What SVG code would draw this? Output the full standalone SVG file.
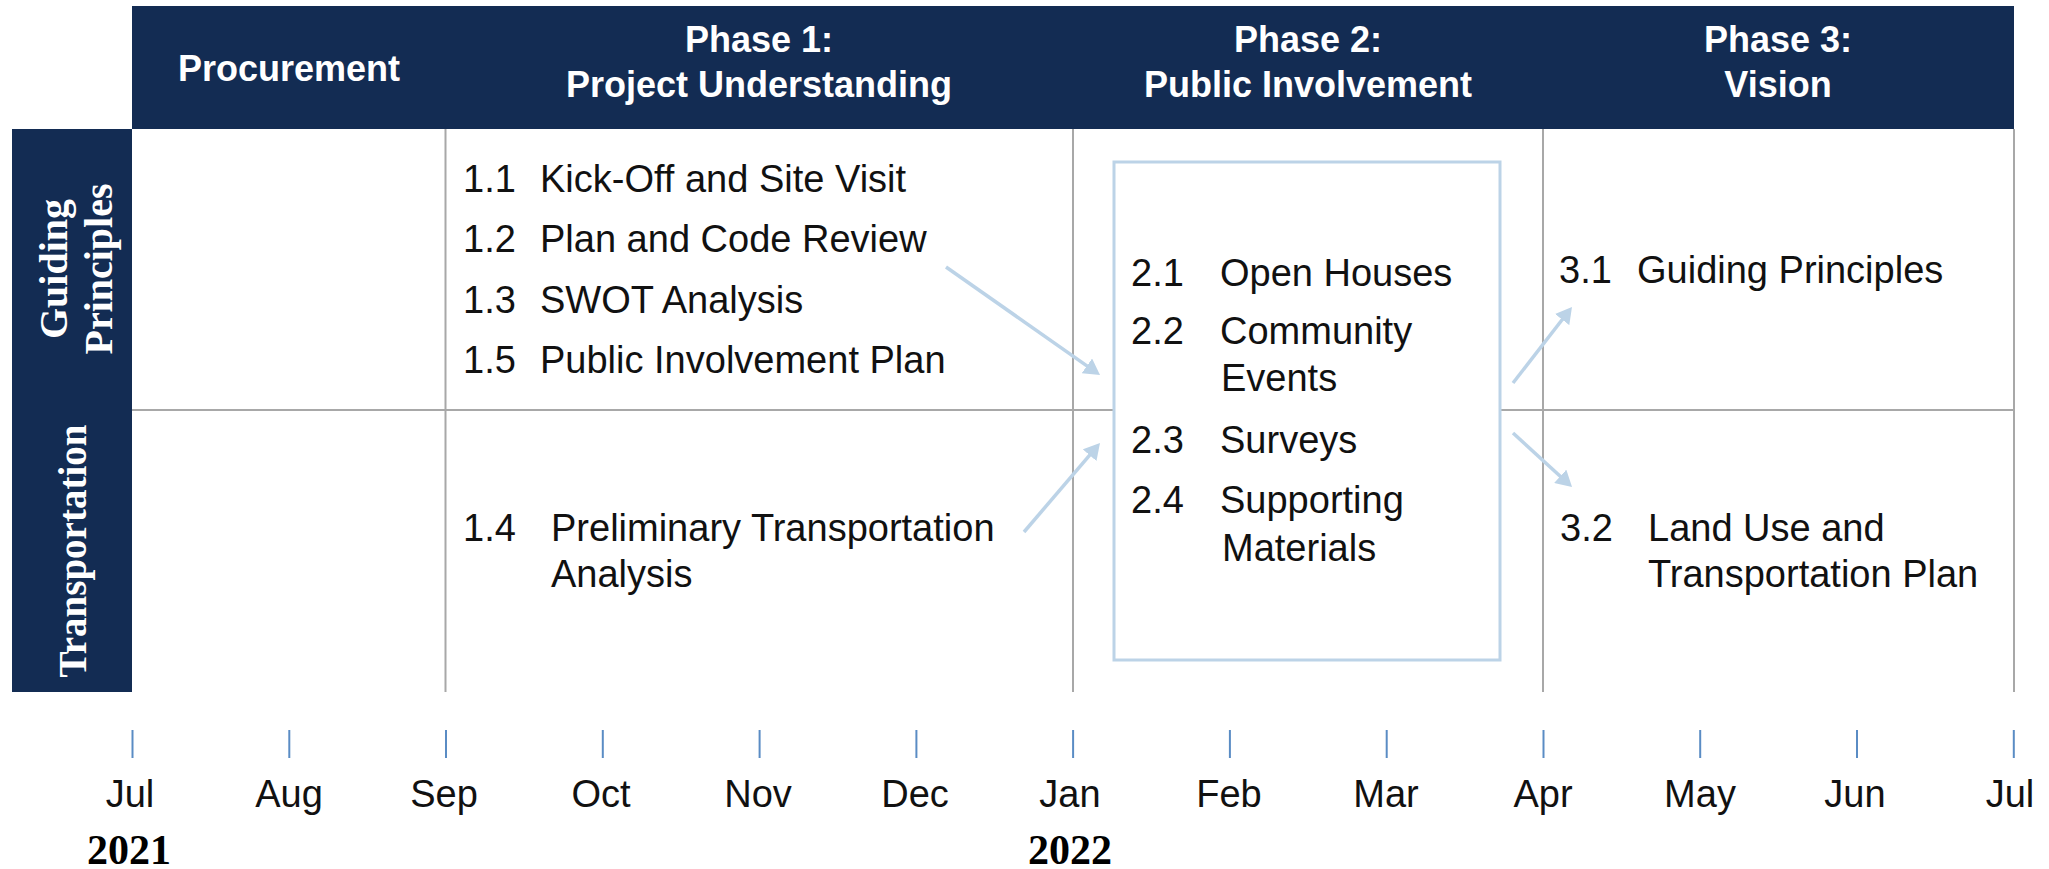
<svg xmlns="http://www.w3.org/2000/svg" width="2049" height="869" viewBox="0 0 2049 869">
  <style>
    .band { fill: #132c53; }
    .hdr { font-family: "Liberation Sans", Arial, sans-serif; font-weight: bold; font-size: 36px; fill: #ffffff; text-anchor: middle; }
    .row { font-family: "Liberation Serif", "Times New Roman", serif; font-weight: bold; font-size: 40px; fill: #ffffff; text-anchor: middle; }
    .grid { stroke: #a8a8a8; stroke-width: 2; fill: none; }
    .txt { font-family: "Liberation Sans", Arial, sans-serif; font-size: 38px; fill: #111111; }
    .mon { font-family: "Liberation Sans", Arial, sans-serif; font-size: 38px; fill: #111111; text-anchor: middle; }
    .yr { font-family: "Liberation Serif", "Times New Roman", serif; font-weight: bold; font-size: 42px; fill: #000000; text-anchor: middle; }
    .tick { stroke: #5a8cc4; stroke-width: 2; }
    .conn { stroke: #bcd3e7; stroke-width: 3.5; fill: none; marker-end: url(#head); }
    .box { fill: #ffffff; stroke: #bcd3e7; stroke-width: 3; }
  </style>
  <defs>
    <marker id="head" viewBox="0 0 16 18" markerUnits="userSpaceOnUse" markerWidth="16" markerHeight="18" refX="10" refY="9" orient="auto">
      <path d="M0,0 L16,9 L0,18 z" fill="#bcd3e7"/>
    </marker>
  </defs>

  <g id="header">
    <rect class="band" x="132" y="6" width="1882" height="123"/>
    <text class="hdr" x="289" y="81">Procurement</text>
    <text class="hdr" x="759" y="52">Phase 1:</text>
    <text class="hdr" x="759" y="97">Project Understanding</text>
    <text class="hdr" x="1308" y="52">Phase 2:</text>
    <text class="hdr" x="1308" y="97">Public Involvement</text>
    <text class="hdr" x="1778" y="52">Phase 3:</text>
    <text class="hdr" x="1778" y="97">Vision</text>
  </g>

  <g id="row-labels">
    <rect class="band" x="12" y="129" width="120" height="563"/>
    <text class="row" transform="translate(67,269) rotate(-90)">Guiding</text>
    <text class="row" transform="translate(112,269) rotate(-90)">Principles</text>
    <text class="row" font-size="39" transform="translate(86,551) rotate(-90)" style="font-size:39px">Transportation</text>
  </g>

  <g id="grid">
    <line class="grid" x1="132" y1="410" x2="2014" y2="410"/>
    <line class="grid" x1="445.5" y1="129" x2="445.5" y2="692"/>
    <line class="grid" x1="1073" y1="129" x2="1073" y2="692"/>
    <line class="grid" x1="1543" y1="129" x2="1543" y2="692"/>
    <line class="grid" x1="2014" y1="129" x2="2014" y2="692"/>
  </g>

  <g id="phase1-guiding">
    <text class="txt" x="463" y="192">1.1</text><text class="txt" x="540" y="192">Kick-Off and Site Visit</text>
    <text class="txt" x="463" y="252">1.2</text><text class="txt" x="540" y="252">Plan and Code Review</text>
    <text class="txt" x="463" y="313">1.3</text><text class="txt" x="540" y="313">SWOT Analysis</text>
    <text class="txt" x="463" y="373">1.5</text><text class="txt" x="540" y="373">Public Involvement Plan</text>
  </g>

  <g id="phase1-transportation">
    <text class="txt" x="463" y="541">1.4</text>
    <text class="txt" x="551" y="541">Preliminary Transportation</text>
    <text class="txt" x="551" y="587">Analysis</text>
  </g>

  <g id="phase2-box">
    <rect class="box" x="1114" y="162" width="386" height="498"/>
    <text class="txt" x="1131" y="286">2.1</text><text class="txt" x="1220" y="286">Open Houses</text>
    <text class="txt" x="1131" y="344">2.2</text><text class="txt" x="1220" y="344">Community</text>
    <text class="txt" x="1221" y="391">Events</text>
    <text class="txt" x="1131" y="453">2.3</text><text class="txt" x="1220" y="453">Surveys</text>
    <text class="txt" x="1131" y="513">2.4</text><text class="txt" x="1220" y="513">Supporting</text>
    <text class="txt" x="1222" y="561">Materials</text>
  </g>

  <g id="phase3-guiding">
    <text class="txt" x="1559" y="283">3.1</text><text class="txt" x="1637" y="283">Guiding Principles</text>
  </g>

  <g id="phase3-transportation">
    <text class="txt" x="1560" y="541">3.2</text>
    <text class="txt" x="1648" y="541">Land Use and</text>
    <text class="txt" x="1648" y="587">Transportation Plan</text>
  </g>

  <g id="connectors">
    <line class="conn" x1="946" y1="267" x2="1095.1" y2="371.6"/>
    <line class="conn" x1="1024" y1="532" x2="1096.1" y2="447.6"/>
    <line class="conn" x1="1513" y1="383" x2="1568.3" y2="311.7"/>
    <line class="conn" x1="1513" y1="433" x2="1567.6" y2="483"/>
  </g>

  <g id="timeline">
    <line class="tick" x1="132.5" y1="730" x2="132.5" y2="758"/>
    <line class="tick" x1="289.3" y1="730" x2="289.3" y2="758"/>
    <line class="tick" x1="446" y1="730" x2="446" y2="758"/>
    <line class="tick" x1="602.8" y1="730" x2="602.8" y2="758"/>
    <line class="tick" x1="759.6" y1="730" x2="759.6" y2="758"/>
    <line class="tick" x1="916.4" y1="730" x2="916.4" y2="758"/>
    <line class="tick" x1="1073.1" y1="730" x2="1073.1" y2="758"/>
    <line class="tick" x1="1229.9" y1="730" x2="1229.9" y2="758"/>
    <line class="tick" x1="1386.7" y1="730" x2="1386.7" y2="758"/>
    <line class="tick" x1="1543.5" y1="730" x2="1543.5" y2="758"/>
    <line class="tick" x1="1700.2" y1="730" x2="1700.2" y2="758"/>
    <line class="tick" x1="1857" y1="730" x2="1857" y2="758"/>
    <line class="tick" x1="2013.8" y1="730" x2="2013.8" y2="758"/>
    <text class="mon" x="130" y="807">Jul</text>
    <text class="mon" x="289" y="807">Aug</text>
    <text class="mon" x="444" y="807">Sep</text>
    <text class="mon" x="601" y="807">Oct</text>
    <text class="mon" x="758" y="807">Nov</text>
    <text class="mon" x="915" y="807">Dec</text>
    <text class="mon" x="1070" y="807">Jan</text>
    <text class="mon" x="1229" y="807">Feb</text>
    <text class="mon" x="1386" y="807">Mar</text>
    <text class="mon" x="1543" y="807">Apr</text>
    <text class="mon" x="1700" y="807">May</text>
    <text class="mon" x="1855" y="807">Jun</text>
    <text class="mon" x="2010" y="807">Jul</text>
    <text class="yr" x="129" y="864">2021</text>
    <text class="yr" x="1070" y="864">2022</text>
  </g>
</svg>
